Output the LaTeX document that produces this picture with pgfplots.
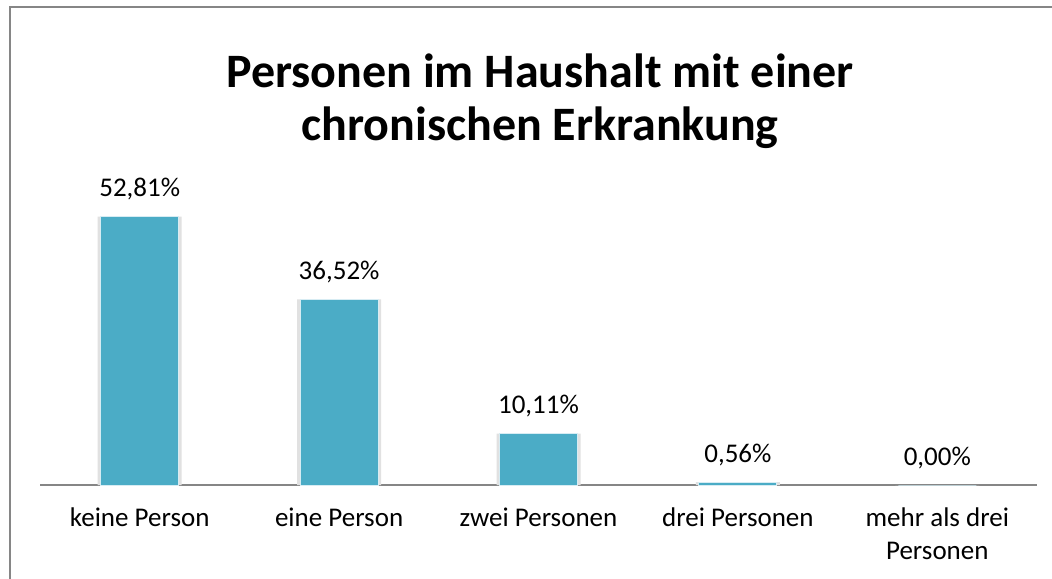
\documentclass[border=0pt]{standalone}
\usepackage{fontspec}
\setmainfont{Carlito}
\usepackage{pgfplots}
\pgfplotsset{compat=1.18}
\definecolor{barc}{RGB}{75,172,198}
\definecolor{baredge}{RGB}{215,236,243}
\definecolor{shadowc}{RGB}{225,225,225}
\definecolor{framec}{RGB}{134,134,134}
\newcommand{\tl}{\rule{0pt}{11pt}}
\begin{document}
\begin{tikzpicture}
\path[use as bounding box] (0pt,0pt) rectangle (526pt,289pt);
\draw[framec, line width=1pt] (5pt,-2pt) -- (5pt,285.5pt) -- (528pt,285.5pt);
\node[align=center, font=\fontsize{24}{26.5}\selectfont\bfseries] at (270pt,238.5pt) {Personen im Haushalt mit einer\\chronischen Erkrankung};
\begin{axis}[
  at={(20pt,46.5pt)}, anchor=south west,
  scale only axis, width=498.5pt, height=152.4pt,
  xmin=-0.5, xmax=4.5, ymin=0, ymax=60,
  axis y line=none,
  axis x line*=bottom,
  x axis line style={framec, line width=1.2pt, -},
  xtick=data, major tick length=0pt,
  xticklabels={\tl keine Person, \tl eine Person, \tl zwei Personen, \tl drei Personen, {\tl mehr als drei\\Personen}},
  xticklabel style={align=center, anchor=north, inner sep=0pt, yshift=-9.5pt, font=\fontsize{13.5}{16.5}\selectfont},
  clip=false,
  /pgf/number format/assume math mode=true,
  ybar, bar shift=0pt,
]
\addplot[fill=shadowc, draw=none, bar width=42pt]
  coordinates {(0,52.81) (1,36.52) (2,10.11) (3,0.56) (4,0.00)};
\addplot[fill=barc, draw=baredge, line width=0.5pt, bar width=39pt,
  nodes near coords={\pgfmathprintnumber[fixed, fixed zerofill, precision=2, use comma]{\pgfplotspointmeta}\%},
  every node near coord/.append style={anchor=base, inner sep=0pt, yshift=10pt, font=\fontsize{13.5}{16}\selectfont, black}]
  coordinates {(0,52.81) (1,36.52) (2,10.11) (3,0.56) (4,0.00)};
\end{axis}
\end{tikzpicture}
\end{document}
